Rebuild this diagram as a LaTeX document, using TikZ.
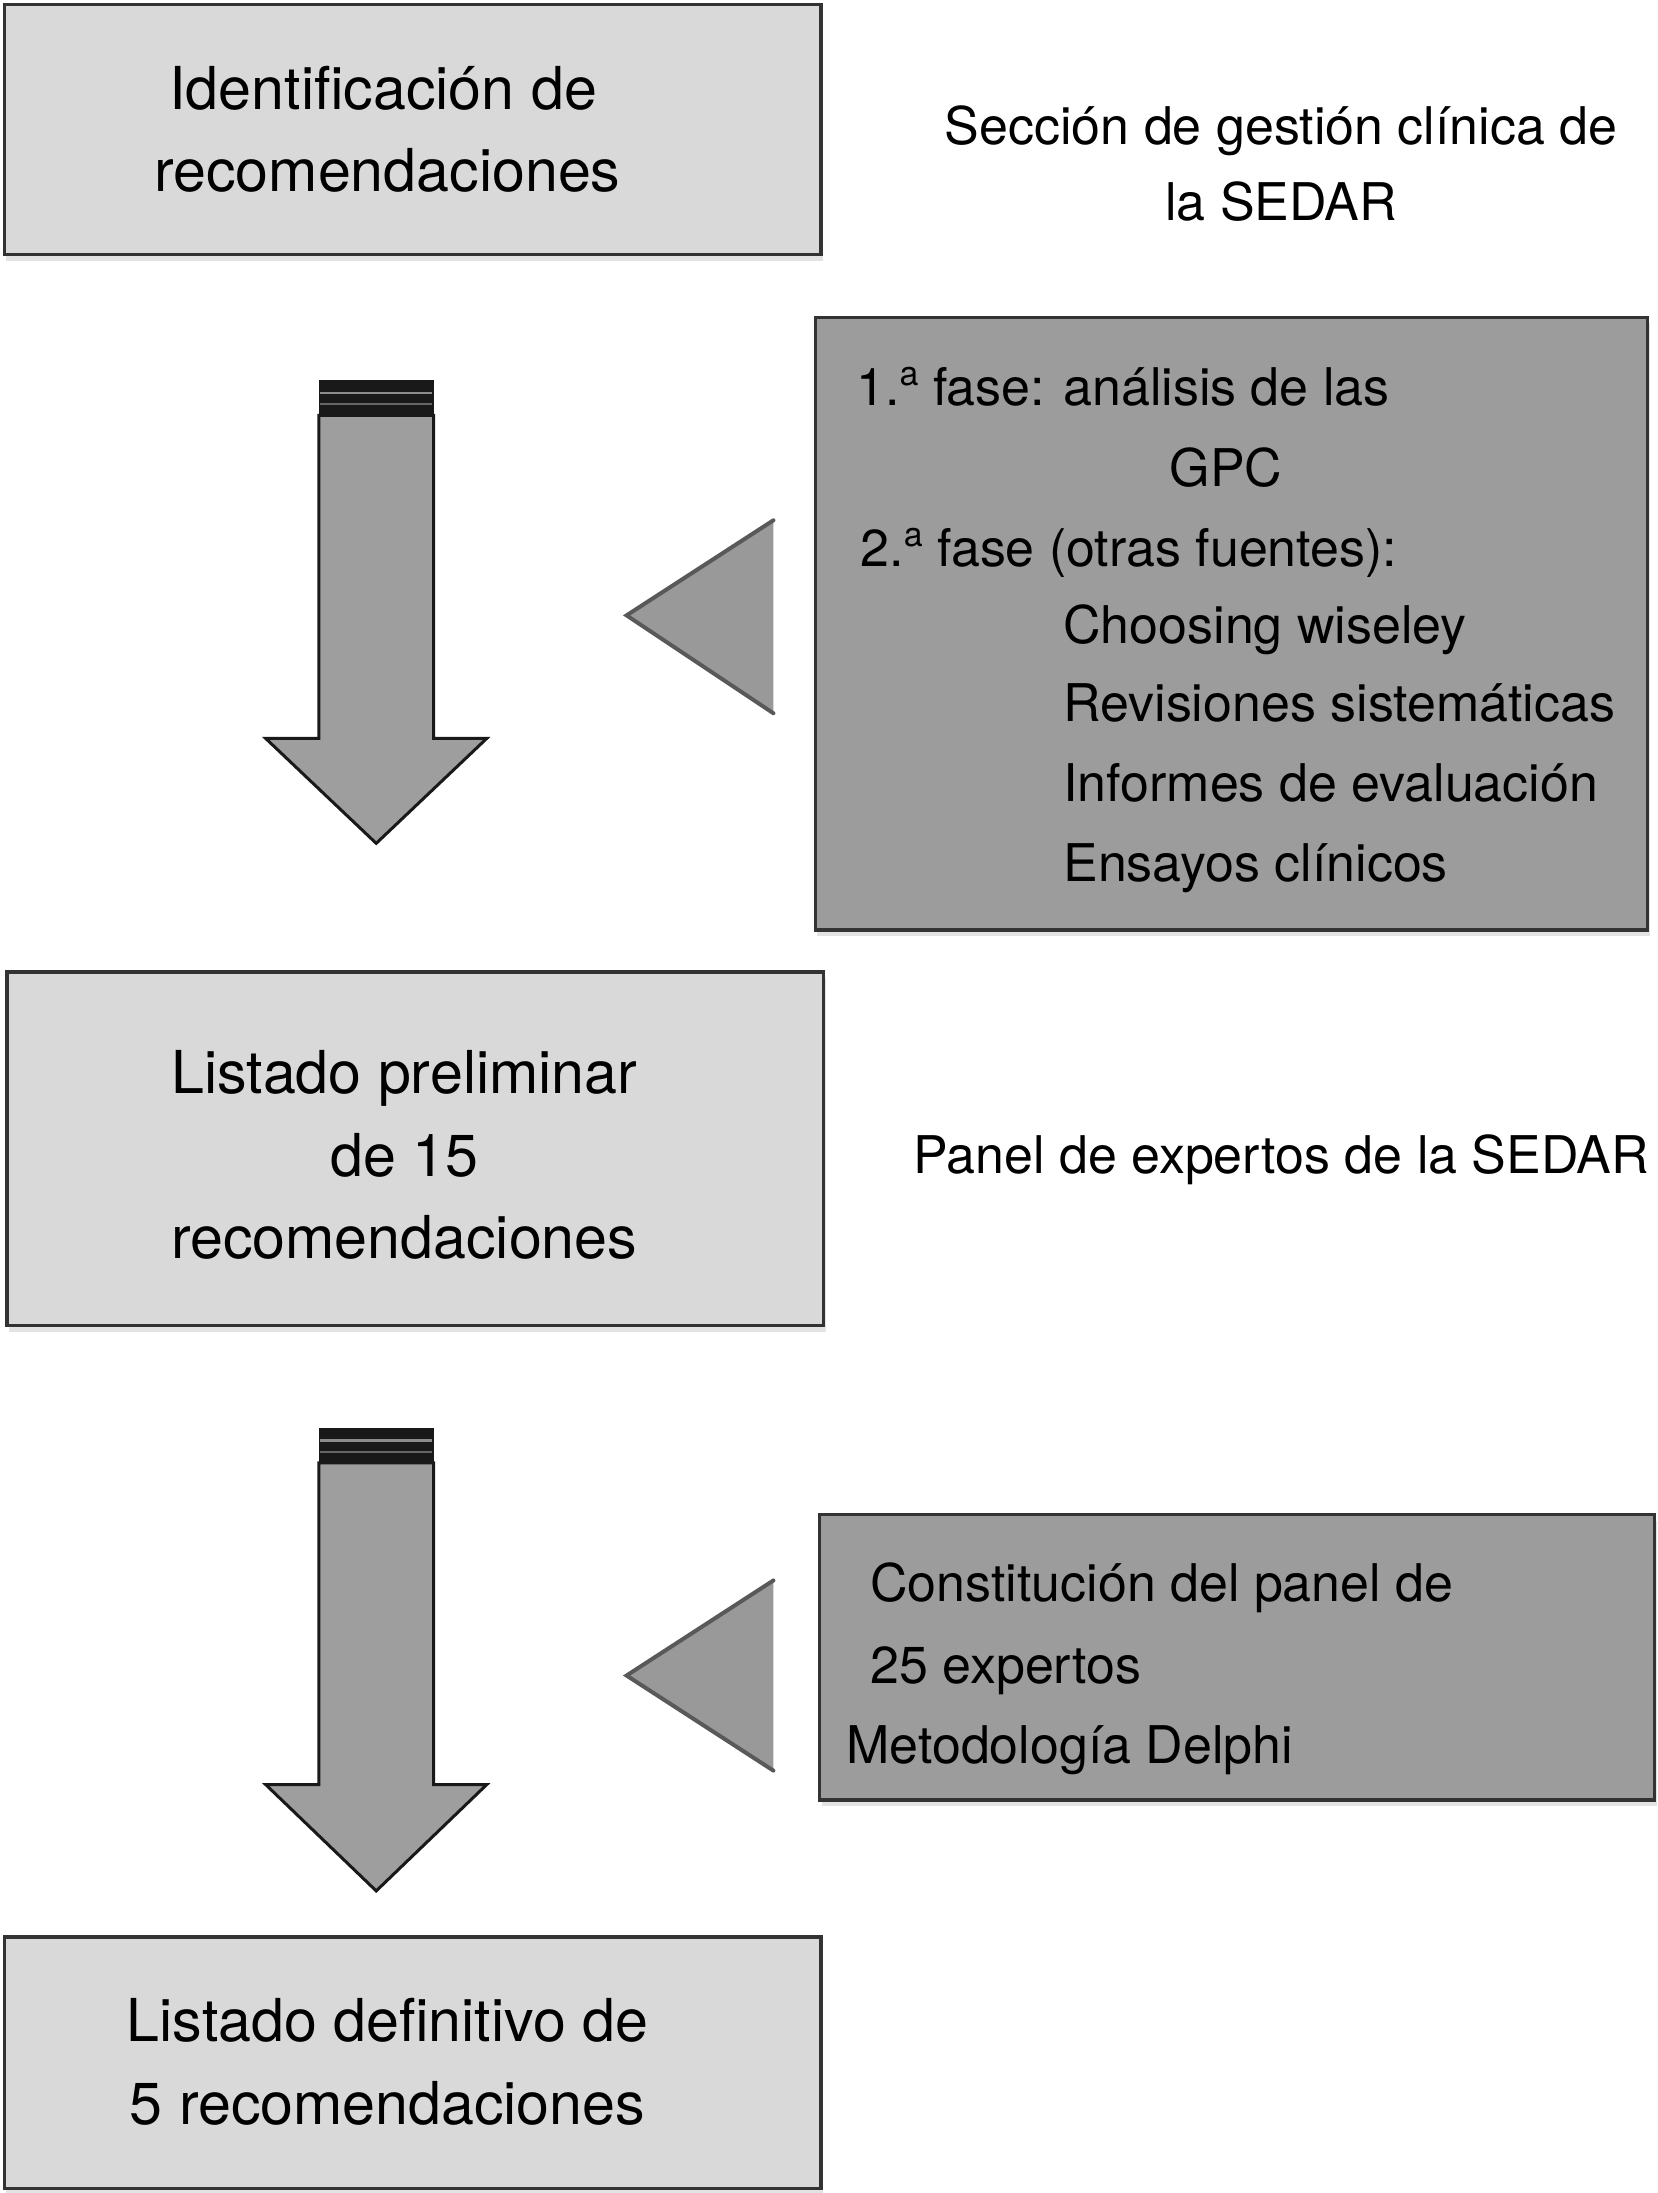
\documentclass[tikz,border=0pt]{standalone}
\usepackage{fontspec}
\setmainfont{TeX Gyre Heros}
\usetikzlibrary{shadows}
\definecolor{lightfill}{HTML}{D9D9D9}
\definecolor{darkfill}{HTML}{9C9C9C}
\definecolor{arrowfill}{HTML}{9E9E9E}
\definecolor{trifill}{HTML}{999999}
\definecolor{edge}{HTML}{333333}
\newcommand{\ordsup}{\raisebox{0.75ex}{\fontsize{17}{17}\selectfont a}}
\tikzset{
  boxbase/.style={rectangle, draw=edge, line width=1.6pt, inner sep=0pt,
    drop shadow={shadow xshift=1pt, shadow yshift=-3pt, opacity=0.22}},
  lightbox/.style={boxbase, fill=lightfill},
  darkbox/.style={boxbase, fill=darkfill},
  bigtxt/.style={font=\fontsize{29.6}{41.3}\selectfont, inner sep=0pt, anchor=base},
  smalltxt/.style={font=\fontsize{26}{38.5}\selectfont, inner sep=0pt, anchor=base},
  lefttxt/.style={font=\fontsize{26}{38.5}\selectfont, inner sep=0pt, anchor=base west},
  arrowshape/.style={fill=arrowfill, draw=black!90, line width=1.5pt, line join=miter},
  tri/.style={fill=trifill},
  triedge/.style={draw=black!65, line width=2pt, line cap=round},
}
\begin{document}
\begin{tikzpicture}[x=0.7pt, y=-0.7pt]
\useasboundingbox (0,0) rectangle (1185,1568);
\fill[white] (0,0) rectangle (1185,1568);

% boxes
\node[lightbox, minimum width=408.8pt, minimum height=125.3pt] (b1) at (295,92.5) {};
\node[darkbox, minimum width=416.5pt, minimum height=306.6pt] (b2) at (880.5,446) {};
\node[lightbox, minimum width=408.8pt, minimum height=177.1pt] (b3) at (297,821.5) {};
\node[darkbox, minimum width=417.9pt, minimum height=142.8pt] (b4) at (884.5,1185) {};
\node[lightbox, minimum width=408.8pt, minimum height=126pt] (b5) at (295,1475) {};

% box 1 text
\node[bigtxt] (t1a) at (274,78) {Identificación de};
\node[bigtxt] (t1b) at (277,137) {recomendaciones};

% top right text
\node[smalltxt] (s1a) at (916,103) {Sección de gestión clínica de};
\node[smalltxt] (s1b) at (916,158) {la SEDAR};

% box 2 text
\node[lefttxt] (p1) at (612,290) {1.\ordsup{} fase:};
\node[lefttxt] (p1b) at (760,290) {análisis de las};
\node[lefttxt] (p2) at (836,348) {GPC};
\node[lefttxt] (p3) at (615,405) {2.\ordsup{} fase (otras fuentes):};
\node[lefttxt] (p4) at (760,460) {Choosing wiseley};
\node[lefttxt] (p5) at (760,516) {Revisiones sistemáticas};
\node[lefttxt] (p6) at (760,573) {Informes de evaluación};
\node[lefttxt] (p7) at (760,630) {Ensayos clínicos};

% box 3 text
\node[bigtxt] (t3a) at (289,782) {Listado preliminar};
\node[bigtxt] (t3b) at (289,841) {de 15};
\node[bigtxt] (t3c) at (289,900) {recomendaciones};

% middle right text
\node[smalltxt] (s2) at (916,839) {Panel de expertos de la SEDAR};

% box 4 text
\node[lefttxt] (q1) at (622,1145) {Constitución del panel de};
\node[lefttxt] (q2) at (622,1204) {25 expertos};
\node[lefttxt] (q3) at (605,1261) {Metodología Delphi};

% box 5 text
\node[bigtxt] (t5a) at (277,1460) {Listado definitivo de};
\node[bigtxt] (t5b) at (277,1519) {5 recomendaciones};

% arrow 1
\draw[arrowshape] (228,297) -- (228,528) -- (190,528) -- (269,603) -- (348,528) -- (310,528) -- (310,297) -- cycle;
\fill[black!90] (228,272) rectangle (310,297);
\draw[black!45, line width=1.2pt] (229,281) -- (309,281);
\draw[black!60, line width=1pt] (229,289) -- (309,289);

% arrow 2
\draw[arrowshape] (228,1046) -- (228,1276) -- (190,1276) -- (269,1352) -- (348,1276) -- (310,1276) -- (310,1046) -- cycle;
\fill[black!90] (228,1021) rectangle (310,1046);
\draw[black!45, line width=1.2pt] (229,1030) -- (309,1030);
\draw[black!60, line width=1pt] (229,1038) -- (309,1038);

% triangle 1
\fill[tri] (553,372) -- (448,440) -- (553,510) -- cycle;
\draw[triedge] (553,372) -- (448,440) -- (553,510);
% triangle 2
\fill[tri] (553,1130) -- (448,1198) -- (553,1266) -- cycle;
\draw[triedge] (553,1130) -- (448,1198) -- (553,1266);
\end{tikzpicture}
\end{document}
